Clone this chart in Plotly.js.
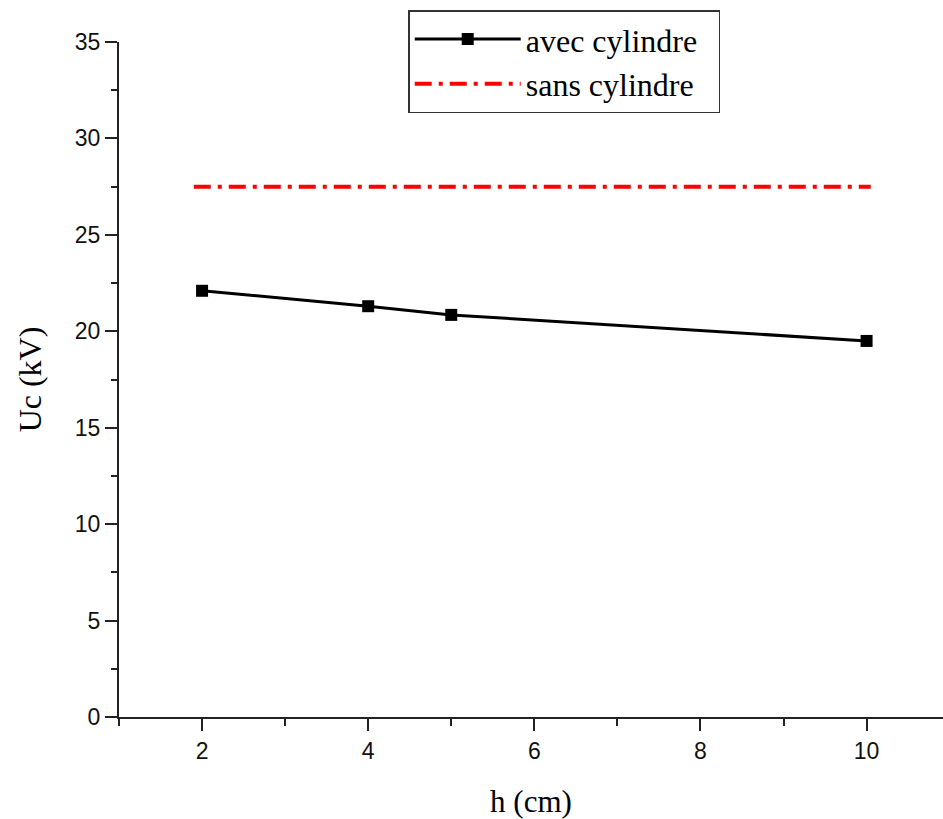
<!DOCTYPE html>
<html>
<head>
<meta charset="utf-8">
<script src="https://cdn.plot.ly/plotly-3.0.1.min.js"></script>
<style>html,body{margin:0;padding:0;background:#fff;}#chart{width:943px;height:819px;}</style>
</head>
<body>
<div id="chart"></div>
<script>
const hAvec = [2, 4, 5, 10];
const ucAvec = [22.1, 21.3, 20.85, 19.5];
const hSans = [1.9, 10.05];
const ucSans = [27.5, 27.5];
const xTicks = [2, 4, 6, 8, 10];
const yTicks = [0, 5, 10, 15, 20, 25, 30, 35];

const traces = [
  {
    x: hAvec, y: ucAvec, name: 'avec cylindre\u00a0\u00a0', type: 'scatter', mode: 'lines+markers',
    line: {color: '#000', width: 3},
    marker: {symbol: 'square', size: 12, color: '#000'}
  },
  {
    x: hSans, y: ucSans, name: 'sans cylindre\u00a0\u00a0', type: 'scatter', mode: 'lines',
    line: {color: '#ff0000', width: 4, dash: '17px,7px,4px,7px'}
  }
];

const axisCommon = {
  showgrid: false, zeroline: false, showline: true, linecolor: '#222', linewidth: 2,
  ticks: 'outside', ticklen: 12, tickwidth: 2, tickcolor: '#222',
  tickfont: {family: 'Liberation Sans, Arial, sans-serif', size: 23, color: '#111'}
};

const layout = {
  width: 943, height: 819,
  margin: {l: 119, r: 0, t: 42, b: 102, autoexpand: false},
  paper_bgcolor: '#fff', plot_bgcolor: '#fff',
  showlegend: true,
  legend: {
    x: 0.351, y: 1.047, xanchor: 'left', yanchor: 'top',
    xref: 'paper', yref: 'paper',
    bgcolor: '#fff', bordercolor: '#333', borderwidth: 1.5,
    font: {family: 'Liberation Serif, Times New Roman, serif', size: 32, color: '#000'},
    itemwidth: 106, tracegroupgap: 0
  },
  xaxis: Object.assign({}, axisCommon, {
    range: [1, 10.92], tickvals: xTicks, ticktext: xTicks.map(String),
    minor: {tickvals: [1, 3, 5, 7, 9], ticks: 'outside', ticklen: 7, tickwidth: 2, tickcolor: '#222'},
    title: {text: 'h (cm)', standoff: 28, font: {family: 'Liberation Serif, Times New Roman, serif', size: 31, color: '#000'}}
  }),
  yaxis: Object.assign({}, axisCommon, {
    range: [0, 35], tickvals: yTicks, ticktext: yTicks.map(String),
    minor: {dtick: 2.5, ticks: 'outside', ticklen: 6, tickwidth: 2, tickcolor: '#222'},
    title: {text: 'Uc (kV)', standoff: 24, font: {family: 'Liberation Serif, Times New Roman, serif', size: 32, color: '#000'}}
  })
};

Plotly.newPlot('chart', traces, layout, {displayModeBar: false, staticPlot: true});
</script>
</body>
</html>
